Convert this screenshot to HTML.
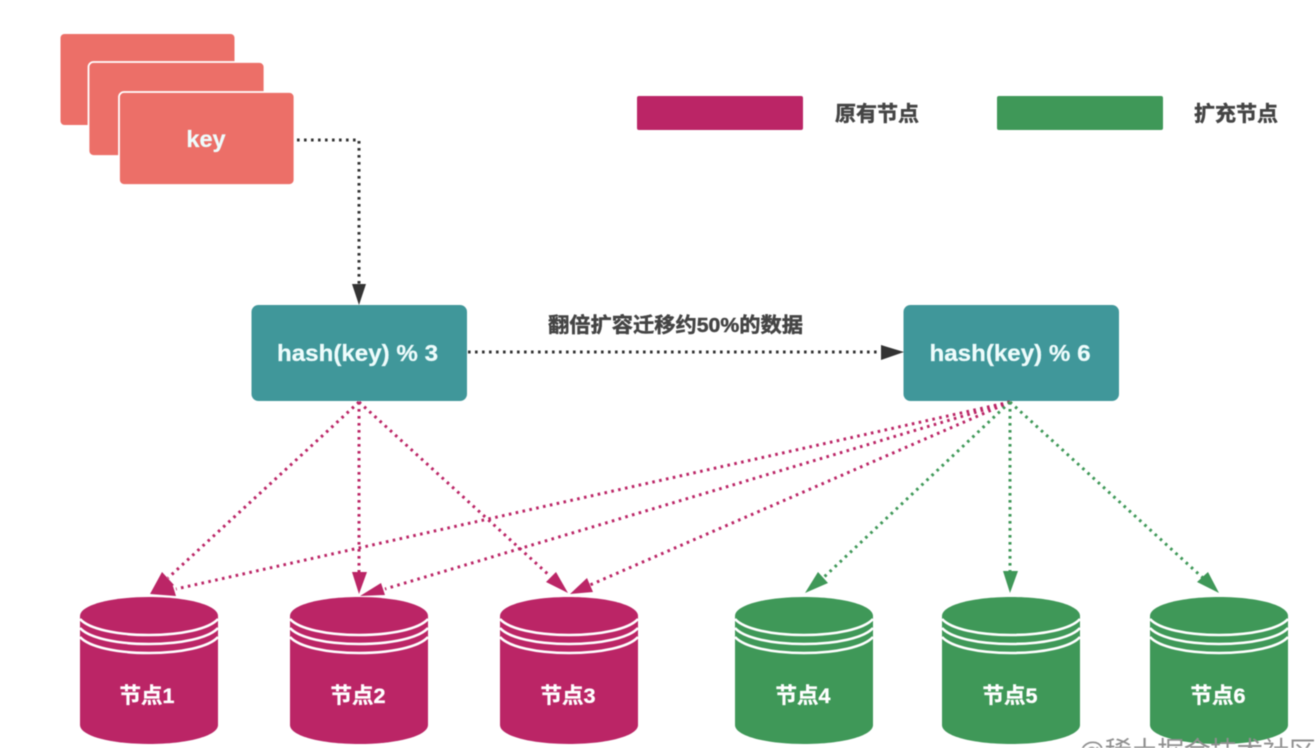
<!DOCTYPE html>
<html lang="zh">
<head>
<meta charset="utf-8">
<title>Diagram</title>
<style>
html,body{margin:0;padding:0;background:#fff;width:1316px;height:748px;overflow:hidden}
svg{display:block;filter:blur(0.45px)}
text{font-family:"Liberation Sans","Noto Sans CJK SC",sans-serif;font-weight:700}
.d{fill:none;stroke-width:3;stroke-dasharray:2.6 4.4}
.p{stroke:#bb2566}.g{stroke:#3f9858}.k{stroke:#333}
.w{fill:none;stroke:#fff;stroke-width:2.6}
.n{font-size:21.500px;fill:#fff;text-anchor:middle;stroke:#fff;stroke-width:.35}
.h{font-size:23.500px;fill:#eefcfc;text-anchor:middle;stroke:#eefcfc;stroke-width:.25}
.l{font-size:21px;fill:#444;stroke:#444;stroke-width:.45}
</style>
</head>
<body>
<svg width="1316" height="748" viewBox="0 0 1316 748" xmlns="http://www.w3.org/2000/svg">
<defs>
<g id="cyl">
<path d="M-69 616 C-69 605 -38 597 0 597 C38 597 69 605 69 616 L69 725 C69 736 38 744 0 744 C-38 744 -69 736 -69 725 Z"/>
<path class="w" d="M-69 619 C-60 629 -32 635 0 635 C32 635 60 629 69 619"/>
<path class="w" d="M-69 628 C-60 638 -32 644 0 644 C32 644 60 638 69 628"/>
<path class="w" d="M-69 637 C-60 647 -32 653 0 653 C32 653 60 647 69 637"/>
</g>
</defs>

<!-- key cards -->
<rect x="60.500" y="34" width="174" height="91" rx="4" fill="#ec6f68"/>
<rect x="88.500" y="62" width="176" height="94" rx="5" fill="#ec6f68" stroke="#fff" stroke-width="1.800"/>
<rect x="119" y="92" width="175.500" height="93" rx="5" fill="#ec6f68" stroke="#fff" stroke-width="1.800"/>
<text x="206" y="147" class="h">key</text>

<!-- legend -->
<rect x="637" y="96" width="166" height="34" rx="2" fill="#bb2566"/>
<text x="835" y="121" class="l" style="font-size:21px">原有节点</text>
<rect x="997" y="96" width="166" height="34" rx="2" fill="#3f9858"/>
<text x="1194" y="121" class="l" style="font-size:21px">扩充节点</text>

<!-- black connectors -->
<path class="d k" d="M297 140 H359 V284"/>
<polygon points="352,284 366,284 359,305" fill="#333"/>
<path class="d k" d="M468 352 H881"/>
<polygon points="881,345 881,360 904,352" fill="#333"/>
<text x="548" y="332" class="l" style="font-size:20.500px" textLength="255" lengthAdjust="spacingAndGlyphs">翻倍扩容迁移约50%的数据</text>

<!-- hash boxes -->
<rect x="251.500" y="305" width="215.500" height="96" rx="7" fill="#40979a"/>
<text x="357.500" y="361" class="h" textLength="161" lengthAdjust="spacingAndGlyphs">hash(key) % 3</text>
<rect x="903.500" y="305" width="215.500" height="96" rx="7" fill="#40979a"/>
<text x="1010" y="361" class="h" textLength="161" lengthAdjust="spacingAndGlyphs">hash(key) % 6</text>

<!-- pink connectors -->
<path class="d p" d="M359 402 L168 578"/>
<path class="d p" d="M359 402 V572"/>
<path class="d p" d="M359 402 L550 576"/>
<path class="d p" d="M1010 402 L176 589"/>
<path class="d p" d="M1010 402 L385 589"/>
<path class="d p" d="M1010 402 L590 585"/>
<polygon points="150,594 162,572 174,585" fill="#bb2566"/>
<polygon points="150,594 172,583 176,596" fill="#bb2566"/>
<polygon points="352,572 367,572 359,594" fill="#bb2566"/>
<polygon points="360,596 381,583 385,595" fill="#bb2566"/>
<polygon points="568,593 556,572 546,582" fill="#bb2566"/>
<polygon points="570,594 587,578 593,592" fill="#bb2566"/>

<!-- green connectors -->
<path class="d g" d="M1010 402 L823 578"/>
<path class="d g" d="M1010 402 V571"/>
<path class="d g" d="M1010 402 L1203 578"/>
<polygon points="805,593 818,572 828,583" fill="#3f9858"/>
<polygon points="1003,571 1018,571 1010,593" fill="#3f9858"/>
<polygon points="1219,593 1197,582 1208,572" fill="#3f9858"/>

<!-- cylinders -->
<use href="#cyl" x="149" fill="#bb2566"/>
<use href="#cyl" x="359" fill="#bb2566"/>
<use href="#cyl" x="569" fill="#bb2566"/>
<use href="#cyl" x="804" fill="#3f9858"/>
<use href="#cyl" x="1011" fill="#3f9858"/>
<use href="#cyl" x="1219" fill="#3f9858"/>
<text x="147" y="703" class="n">节点1</text>
<text x="358" y="703" class="n">节点2</text>
<text x="568" y="703" class="n">节点3</text>
<text x="803" y="703" class="n">节点4</text>
<text x="1010" y="703" class="n">节点5</text>
<text x="1218" y="703" class="n">节点6</text>

<!-- watermark -->
<text x="1078" y="761" style="font-size:27px;font-weight:400" fill="#8f8f8f" textLength="238">@稀土掘金技术社区</text>
</svg>
</body>
</html>
